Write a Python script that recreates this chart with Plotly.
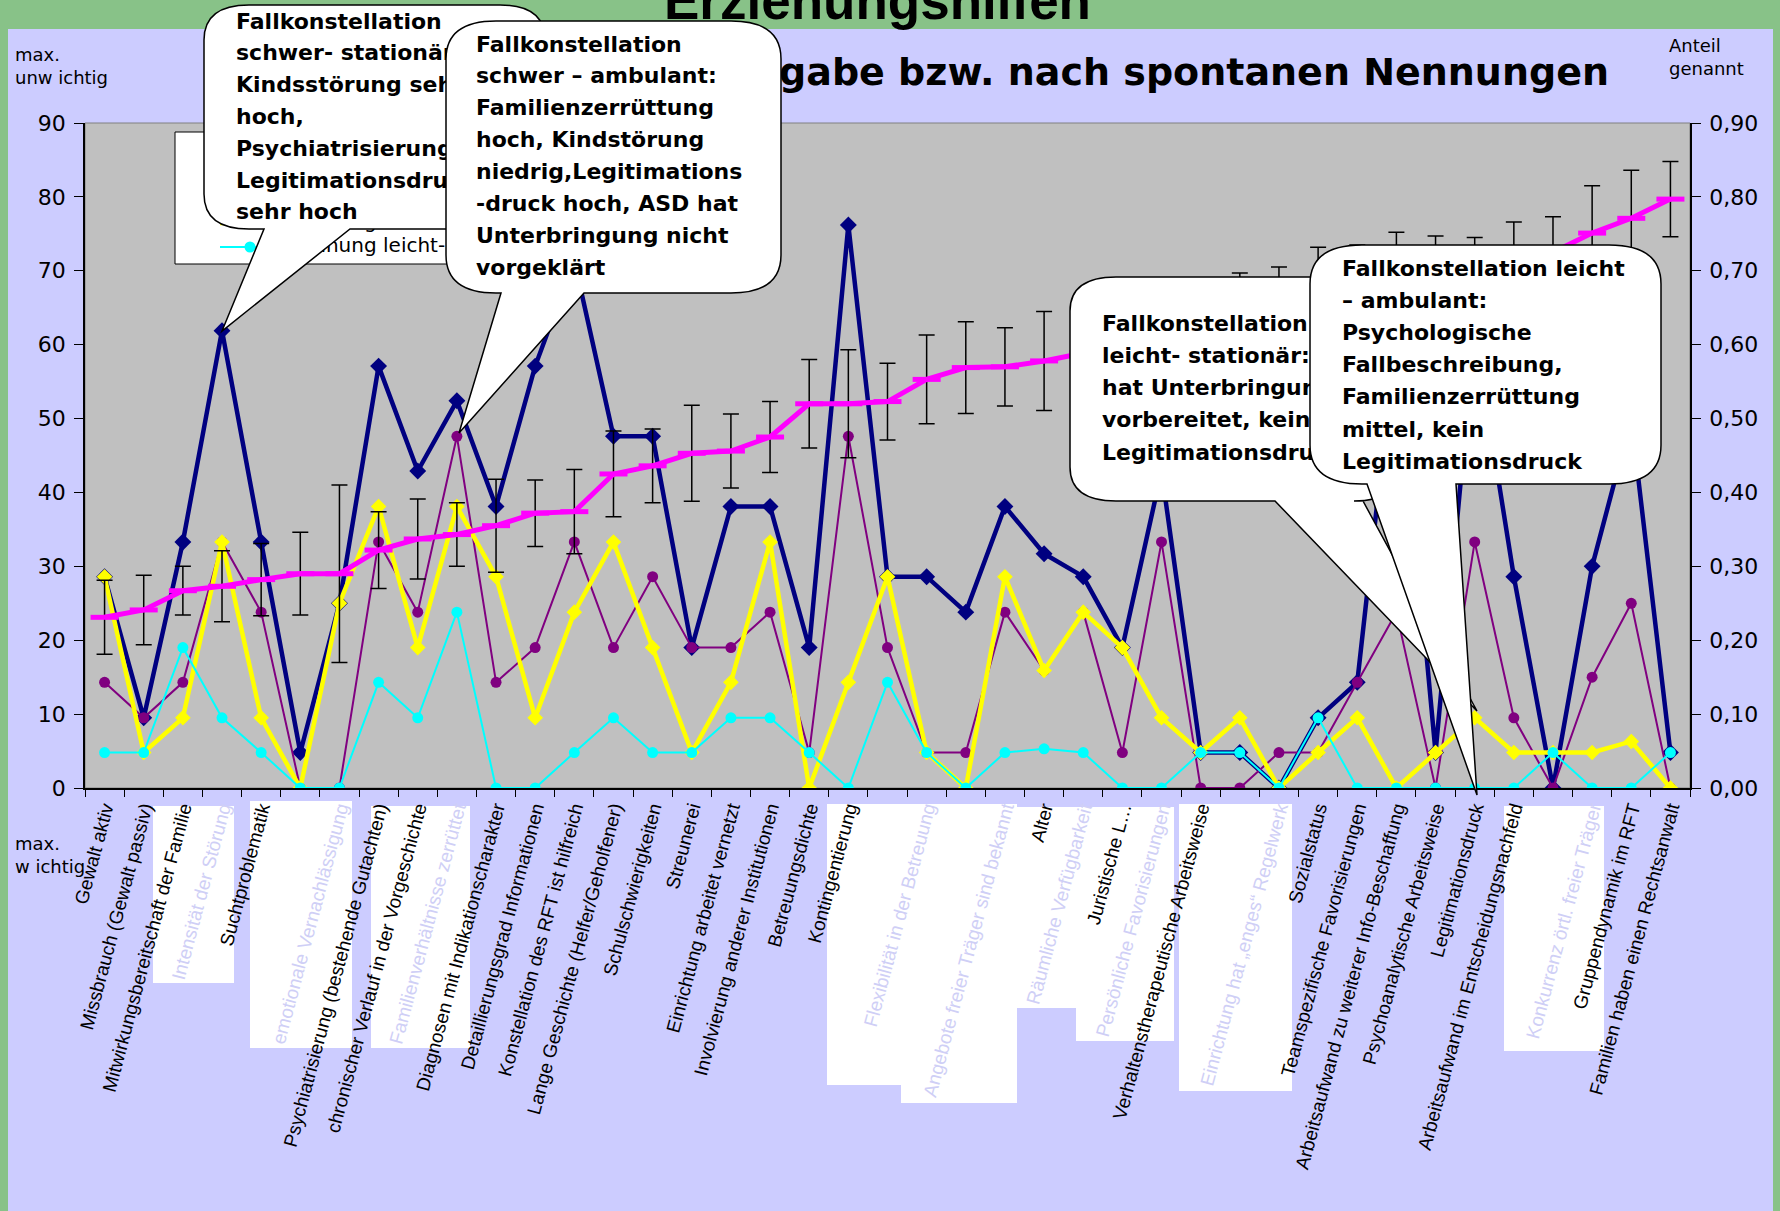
import plotly.graph_objects as go

W, H = 1780, 1211

# ---------------- data ----------------
categories = [
    "Gewalt aktiv", "Missbrauch (Gewalt passiv)", "Mitwirkungsbereitschaft der Familie",
    "Intensität der Störung", "Suchtproblematik", "(verdeckt 1)", "emotionale Vernachlässigung",
    "Psychiatrisierung (bestehende Gutachten)", "chronischer Verlauf in der Vorgeschichte",
    "Familienverhältnisse zerrüttet", "Diagnosen mit Indikationscharakter",
    "Detaillierungsgrad Informationen", "Konstellation des RFT ist hilfreich",
    "Lange Geschichte (Helfer/Geholfener)", "Schulschwierigkeiten", "Streunerei",
    "Einrichtung arbeitet vernetzt", "Involvierung anderer Institutionen", "Betreuungsdichte",
    "Kontingentierung", "Fa…", "Flexibilität in der Betreuung", "Einrichtung bie…",
    "Angebote freier Träger sind bekannt", "Alter", "Räumliche Verfügbarkeit",
    "Juristische L…", "Persönliche Favorisierungen", "Verhaltenstherapeutische Arbeitsweise",
    "(verdeckt 2)", "Einrichtung hat „enges“ Regelwerk", "Sozialstatus",
    "Teamspezifische Favorisierungen", "Arbeitsaufwand zu weiterer Info-Beschaffung",
    "Psychoanalytische Arbeitsweise", "Legitimationsdruck",
    "Arbeitsaufwand im Entscheidungsnachfeld", "(verdeckt 3)", "Konkurrenz örtl. freier Träger",
    "Gruppendynamik im RFT", "Familien haben einen Rechtsanwalt",
]
hidden_labels = [5, 20, 22, 29, 37]
faded_labels = [3, 6, 9, 21, 23, 25, 27, 30, 38]

series_names = ["Nennung schwer-stationär", "Nennung schwer-ambulant",
                "Nennung leicht-stationär", "Nennung leicht-ambulant"]
mean_name = "Mittelwert Vorgabe"

navy_values = [28.6, 9.5, 33.3, 61.9, 33.3, 4.8, 25.0, 57.1, 42.9, 52.4,
               38.1, 57.1, 71.4, 47.6, 47.6, 19.0, 38.1, 38.1, 19.0, 76.2,
               28.6, 28.6, 23.8, 38.1, 31.7, 28.6, 19.0, 42.9, 4.8, 4.8,
               0.0, 9.5, 14.3, 61.9, 4.8, 61.9, 28.6, 0.0, 30.0, 50.0, 4.8]
purple_values = [14.3, 9.5, 14.3, 33.3, 23.8, 0.0, 0.0, 33.3, 23.8, 47.6,
                 14.3, 19.0, 33.3, 19.0, 28.6, 19.0, 19.0, 23.8, 4.8, 47.6,
                 19.0, 4.8, 4.8, 23.8, 15.9, 23.8, 4.8, 33.3, 0.0, 0.0,
                 4.8, 4.8, 14.3, 23.8, 0.0, 33.3, 9.5, 0.0, 15.0, 25.0, 0.0]
yellow_values = [28.6, 4.8, 9.5, 33.3, 9.5, 0.0, 25.0, 38.1, 19.0, 38.1,
                 28.6, 9.5, 23.8, 33.3, 19.0, 4.8, 14.3, 33.3, 0.0, 14.3,
                 28.6, 4.8, 0.0, 28.6, 15.9, 23.8, 19.0, 9.5, 4.8, 9.5,
                 0.0, 4.8, 9.5, 0.0, 4.8, 9.5, 4.8, 4.8, 4.8, 6.3, 0.0]
cyan_values = [4.8, 4.8, 19.0, 9.5, 4.8, 0.0, 0.0, 14.3, 9.5, 23.8,
               0.0, 0.0, 4.8, 9.5, 4.8, 4.8, 9.5, 9.5, 4.8, 0.0,
               14.3, 4.8, 0.0, 4.8, 5.3, 4.8, 0.0, 0.0, 4.8, 4.8,
               0.0, 9.5, 0.0, 0.0, 0.0, 0.0, 0.0, 4.8, 0.0, 0.0, 4.8]
mean_share = [0.231, 0.241, 0.267, 0.273, 0.282, 0.290, 0.290, 0.322, 0.337, 0.343,
              0.355, 0.372, 0.374, 0.425, 0.436, 0.453, 0.456, 0.475, 0.520, 0.520,
              0.523, 0.553, 0.569, 0.570, 0.578, 0.589, 0.600, 0.610, 0.625, 0.640,
              0.655, 0.675, 0.685, 0.690, 0.695, 0.700, 0.710, 0.725, 0.751, 0.771, 0.797]
mean_err = [0.050, 0.047, 0.033, 0.048, 0.049, 0.056, 0.120, 0.052, 0.054, 0.043,
            0.063, 0.045, 0.057, 0.058, 0.050, 0.065, 0.050, 0.048, 0.060, 0.073,
            0.052, 0.060, 0.062, 0.053, 0.067, 0.060, 0.060, 0.060, 0.060, 0.057,
            0.050, 0.057, 0.050, 0.062, 0.052, 0.045, 0.056, 0.048, 0.064, 0.065, 0.051]

left_ticks = list(range(0, 91, 10))
right_ticks = [v / 100 for v in range(0, 91, 10)]

title_text = "Erziehungshilfen"
subtitle_text = "Rangreihe nach Vorgabe bzw. nach spontanen Nennungen"
callout1 = ["Fallkonstellation", "schwer- stationär:", "Kindsstörung sehr", "hoch,",
            "Psychiatrisierung,", "Legitimationsdruck", "sehr hoch"]
callout2 = ["Fallkonstellation", "schwer – ambulant:", "Familienzerrüttung", "hoch, Kindstörung",
            "niedrig,Legitimations", "-druck hoch, ASD hat", "Unterbringung nicht", "vorgeklärt"]
callout3 = ["Fallkonstellation", "leicht- stationär:", "hat Unterbringung",
            "vorbereitet, kein", "Legitimationsdruck"]
callout4 = ["Fallkonstellation leicht", "– ambulant:", "Psychologische", "Fallbeschreibung,",
            "Familienzerrüttung", "mittel, kein", "Legitimationsdruck"]

# ---------------- helpers ----------------
def fx(x):
    return x / W


def fy(y):
    return 1 - y / H


def paper_rect(x0, y0, x1, y1, fill, line_color=None, lw=0):
    return dict(type="rect", xref="paper", yref="paper", layer="below",
                x0=fx(x0), x1=fx(x1), y0=fy(y1), y1=fy(y0), fillcolor=fill,
                line=dict(color=line_color or fill, width=lw))


def bubble(L, T, R, B, rx, ry, b1, b2, tip):
    tx, ty = tip
    return (f"M {L+rx},{T} L {R-rx},{T} Q {R},{T} {R},{T+ry} L {R},{B-ry} "
            f"Q {R},{B} {R-rx},{B} L {b2},{B} L {tx},{ty} L {b1},{B} L {L+rx},{B} "
            f"Q {L},{B} {L},{B-ry} L {L},{T+ry} Q {L},{T} {L+rx},{T} Z")


fig = go.Figure()

# ---------------- main chart ----------------
styles = [("#000080", 4.5, "diamond", 13), ("#800080", 2, "circle", 11),
          ("#FFFF00", 4.5, "diamond", 12), ("#00FFFF", 2, "circle", 11)]
for name, vals, (col, lw, sym, ms) in zip(series_names,
                                          [navy_values, purple_values, yellow_values, cyan_values],
                                          styles):
    fig.add_trace(go.Scatter(x=categories, y=vals, name=name, mode="lines+markers",
                             line=dict(color=col, width=lw),
                             marker=dict(symbol=sym, size=ms, color=col),
                             xaxis="x", yaxis="y", hoverinfo="skip"))

fig.add_trace(go.Scatter(x=categories, y=mean_share, name=mean_name, mode="lines+markers",
                         line=dict(color="#FF00FF", width=5),
                         marker=dict(symbol="line-ew", size=20, color="#FF00FF",
                                     line=dict(color="#FF00FF", width=5)),
                         error_y=dict(type="data", array=mean_err, visible=True,
                                      color="black", thickness=1.5, width=8),
                         xaxis="x", yaxis="y2", hoverinfo="skip"))

display = []
for i, c in enumerate(categories):
    if i in hidden_labels:
        display.append("")
    elif i in faded_labels:
        display.append(f'<span style="color:#CFCFF6">{c}</span>')
    else:
        display.append(c)

# ---------------- overlay layers (pixel coordinates) ----------------
def text_block(k, x, y0, pitch, lines, size, bold=True, family="DejaVu Sans",
               pos="middle right", color="black"):
    fig.add_trace(go.Scatter(x=[x] * len(lines), y=[y0 + i * pitch for i in range(len(lines))],
                             text=lines, mode="text", textposition=pos,
                             textfont=dict(family=family, size=size, color=color,
                                           weight="bold" if bold else "normal"),
                             xaxis=f"x{k}", yaxis=f"y{k}", hoverinfo="skip",
                             showlegend=False, cliponaxis=False))

shapes = [
    paper_rect(8, 29, 1773, H, "#CCCCFF"),
    paper_rect(85, 123, 1690, 788, "#C0C0C0", "#808080", 1),
    paper_rect(175, 132, 495, 264, "white", "black", 1),
]
for (x0, y0, x1, y1) in [(153, 806, 234, 983), (250, 801, 352, 1048), (371, 806, 470, 1048),
                         (827, 804, 901, 1085), (901, 804, 1017, 1103), (1017, 807, 1076, 1008),
                         (1076, 807, 1174, 1041), (1179, 804, 1292, 1091), (1504, 806, 1604, 1051)]:
    shapes.append(paper_rect(x0, y0, x1, y1, "white"))

# layer 3: subtitle + legend content
text_block(3, 1609, 75, 0, [subtitle_text], 38, pos="middle left")
legend_rows = [(151, "#FF00FF", 5, None, mean_name),
               (175, "#000080", 4.5, "diamond", series_names[0]),
               (199, "#800080", 2, "circle", series_names[1]),
               (223, "#FFFF00", 4.5, "diamond", series_names[2]),
               (247, "#00FFFF", 2, "circle", series_names[3])]
for (ly, col, lw, sym, _) in legend_rows:
    shapes.append(dict(type="line", xref="x3", yref="y3", layer="below", x0=220, x1=280,
                       y0=ly, y1=ly, line=dict(color=col, width=lw)))
    if sym == "circle":
        shapes.append(dict(type="circle", xref="x3", yref="y3", layer="below",
                           x0=244.5, x1=255.5, y0=ly - 5.5, y1=ly + 5.5,
                           fillcolor=col, line=dict(width=0)))
    elif sym == "diamond":
        shapes.append(dict(type="path", xref="x3", yref="y3", layer="below",
                           path=f"M 250,{ly-6.5} L 256.5,{ly} L 250,{ly+6.5} L 243.5,{ly} Z",
                           fillcolor=col, line=dict(width=0)))
fig.add_trace(go.Scatter(x=[286] * 5, y=[r[0] for r in legend_rows], text=[r[4] for r in legend_rows],
                         mode="text", textposition="middle right",
                         textfont=dict(family="DejaVu Sans", size=20, color="black"),
                         xaxis="x3", yaxis="y3", hoverinfo="skip", showlegend=False, cliponaxis=False))

# callouts
bubbles = [
    (4, bubble(204, 5, 545, 229, 45, 35, 264, 350, (222, 331)), (236, 23, 31.8, callout1)),
    (5, bubble(446, 21, 781, 293, 50, 38, 501, 584, (459, 433)), (476, 46, 31.9, callout2)),
    (6, bubble(1070, 277, 1400, 501, 46, 34, 1275, 1363, (1477, 711)), (1102, 325, 32.3, callout3)),
    (7, bubble(1310, 245, 1661, 484, 52, 39, 1367, 1456, (1477, 795)), (1342, 270, 32.2, callout4)),
]
for k, path, (tx, ty, pitch, lines) in bubbles:
    shapes.append(dict(type="path", xref=f"x{k}", yref=f"y{k}", layer="below", path=path,
                       fillcolor="white", line=dict(color="black", width=1.5)))
    text_block(k, tx, ty, pitch, lines, 22)

for k in range(3, 8):
    fig.update_layout(**{
        f"xaxis{k}": dict(domain=[0, 1], range=[0, W], visible=False, fixedrange=True, anchor=f"y{k}"),
        f"yaxis{k}": dict(domain=[0, 1], range=[H, 0], visible=False, fixedrange=True, anchor=f"x{k}"),
    })

annotations = [
    dict(text=title_text, x=fx(877), y=fy(0), xref="paper", yref="paper", xanchor="center",
         yanchor="middle", showarrow=False,
         font=dict(family="Liberation Sans, Arial", size=53, color="black", weight="bold")),
    dict(text="max.<br>unw ichtig", x=fx(13), y=fy(66), xref="paper", yref="paper", xanchor="left",
         yanchor="middle", align="left", showarrow=False,
         font=dict(family="DejaVu Sans", size=18, color="black")),
    dict(text="max.<br>w ichtig", x=fx(13), y=fy(855), xref="paper", yref="paper", xanchor="left",
         yanchor="middle", align="left", showarrow=False,
         font=dict(family="DejaVu Sans", size=18, color="black")),
    dict(text="Anteil<br>genannt", x=fx(1667), y=fy(57), xref="paper", yref="paper", xanchor="left",
         yanchor="middle", align="left", showarrow=False,
         font=dict(family="DejaVu Sans", size=18, color="black")),
]

fig.update_layout(
    width=W, height=H, autosize=False,
    margin=dict(l=0, r=0, t=0, b=0, pad=0),
    paper_bgcolor="#88C288", plot_bgcolor="rgba(0,0,0,0)",
    showlegend=False, separators=",.",
    shapes=shapes, annotations=annotations,
    xaxis=dict(domain=[fx(85), fx(1690)], anchor="y", type="category", range=[-0.5, 40.5],
               tickmode="array", tickvals=categories, ticktext=display, tickangle=-75,
               tickson="boundaries", ticks="outside", ticklen=7, tickcolor="black",
               showline=True, linecolor="black", linewidth=1.5, showgrid=False, zeroline=False,
               tickfont=dict(family="Liberation Sans, Arial", size=19, color="black"),
               automargin=False, fixedrange=True),
    yaxis=dict(domain=[fy(788), fy(123)], anchor="x", range=[0, 90], tickmode="array",
               tickvals=left_ticks, ticks="outside", ticklen=9, tickcolor="black",
               showline=True, linecolor="black", linewidth=1.5, showgrid=False, zeroline=False,
               tickfont=dict(family="DejaVu Sans", size=22, color="black"),
               automargin=False, fixedrange=True, ticklabelstandoff=4),
    yaxis2=dict(overlaying="y", side="right", anchor="x", range=[0, 0.9], tickmode="array",
                tickvals=right_ticks, tickformat=".2f", ticks="outside", ticklen=9,
                tickcolor="black", showline=True, linecolor="black", linewidth=1.5,
                showgrid=False, zeroline=False,
                tickfont=dict(family="DejaVu Sans", size=22, color="black"),
                automargin=False, fixedrange=True, ticklabelstandoff=4),
)

fig.write_html("out.html", config={"displayModeBar": False},
               post_script="document.body.style.margin='0';document.body.style.overflow='hidden';")
